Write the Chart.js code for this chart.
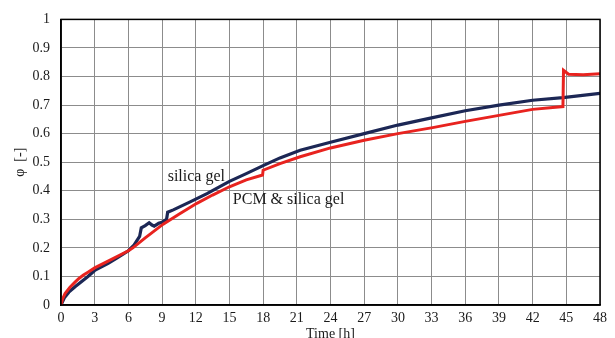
<!DOCTYPE html>
<html>
<head>
<meta charset="utf-8">
<script src="https://cdn.jsdelivr.net/npm/chart.js@4"></script>
<style>
  html, body { margin: 0; padding: 0; background: #fff; }
  #wrap { width: 615px; height: 338px; }
</style>
</head>
<body>
<div id="wrap"><canvas id="c" width="615" height="338"></canvas></div>
<script>
// Relative humidity φ over time for the two sorbent configurations
const timeSilica = [0, 0.3, 0.7, 1.25, 2.4, 3, 4.2, 5, 6, 6.5, 7.0, 7.15, 7.5, 7.85, 8.1, 8.3, 8.7, 9.0, 9.4, 9.5, 10, 11.5, 13, 15, 16.5, 18, 19.5, 21.3, 24, 27, 30, 33.1, 36, 39, 42, 44.7, 48];
const phiSilica  = [0, 0.025, 0.045, 0.064, 0.1, 0.121, 0.146, 0.165, 0.19, 0.21, 0.24, 0.27, 0.278, 0.288, 0.28, 0.276, 0.286, 0.29, 0.30, 0.325, 0.333, 0.361, 0.39, 0.433, 0.46, 0.488, 0.515, 0.542, 0.57, 0.60, 0.63, 0.656, 0.68, 0.70, 0.717, 0.726, 0.741];

const timePcm = [0, 0.15, 0.36, 0.8, 1.25, 1.6, 2.0, 2.4, 3, 4.5, 6, 6.4, 7.5, 9.1, 10.5, 12.1, 13.5, 15, 16.5, 17.95, 18.0, 19.5, 21.3, 24, 27, 30, 33.1, 36, 39, 42, 44.7, 44.75, 45.2, 46.5, 48];
const phiPcm  = [0, 0.022, 0.04, 0.062, 0.08, 0.093, 0.105, 0.115, 0.13, 0.16, 0.19, 0.2, 0.235, 0.283, 0.318, 0.356, 0.385, 0.414, 0.438, 0.455, 0.472, 0.495, 0.519, 0.55, 0.577, 0.60, 0.621, 0.643, 0.664, 0.685, 0.695, 0.822, 0.808, 0.806, 0.81];

const seriesLabels = ['silica gel', 'PCM & silica gel'];
// label anchors in data units: [time, φ]
const labelAnchors = [[9.5, 0.448], [15.3, 0.367]];

const xTitle = 'Time [h]';
const yTitle = 'φ  [-]';

const toPoints = (xs, ys) => xs.map((x, i) => ({ x, y: ys[i] }));

const serif = '"Liberation Serif", "Times New Roman", serif';

const framePlugin = {
  id: 'frameAndLabels',
  afterDatasetsDraw(chart) {
    const { ctx, chartArea: a, scales } = chart;
    ctx.save();
    ctx.strokeStyle = '#000';
    ctx.lineWidth = 1.5;
    ctx.strokeRect(a.left, a.top, a.right - a.left, a.bottom - a.top);
    ctx.fillStyle = '#1a1a1a';
    ctx.font = '16px ' + serif;
    ctx.textBaseline = 'middle';
    ctx.textAlign = 'left';
    seriesLabels.forEach((txt, i) => {
      const [t, v] = labelAnchors[i];
      ctx.fillText(txt, scales.x.getPixelForValue(t), scales.y.getPixelForValue(v));
    });
    ctx.restore();
  }
};

new Chart(document.getElementById('c'), {
  type: 'line',
  data: {
    datasets: [
      {
        label: seriesLabels[1],
        data: toPoints(timePcm, phiPcm),
        borderColor: '#e8231f',
        borderWidth: 3,
        pointRadius: 0,
        tension: 0,
        order: 0
      },
      {
        label: seriesLabels[0],
        data: toPoints(timeSilica, phiSilica),
        borderColor: '#1c2755',
        borderWidth: 3.2,
        pointRadius: 0,
        tension: 0,
        order: 1
      }
    ]
  },
  options: {
    responsive: false,
    animation: false,
    layout: { padding: { top: 19, right: 15, left: 0, bottom: 0 } },
    plugins: {
      legend: { display: false },
      tooltip: { enabled: false }
    },
    scales: {
      x: {
        type: 'linear',
        min: 0,
        max: 48,
        afterFit(s) { s.height = 33; },
        ticks: {
          stepSize: 3,
          color: '#1a1a1a',
          font: { family: serif, size: 14 },
          padding: 5,
          maxRotation: 0,
          autoSkip: false
        },
        grid: { color: '#8c8c8c', lineWidth: 1, drawTicks: false },
        border: { color: '#000', width: 1.5 },
        title: {
          display: true,
          text: xTitle,
          color: '#1a1a1a',
          font: { family: serif, size: 14 },
          padding: { top: 0, bottom: -5 }
        }
      },
      y: {
        min: 0,
        max: 1,
        afterFit(s) { s.width = 61; },
        ticks: {
          stepSize: 0.1,
          color: '#1a1a1a',
          font: { family: serif, size: 14 },
          padding: 11,
          callback: v => (v === 0 || v === 1) ? String(v) : v.toFixed(1)
        },
        grid: { color: '#8c8c8c', lineWidth: 1, drawTicks: false },
        border: { color: '#000', width: 1.5 },
        title: {
          display: true,
          text: yTitle,
          color: '#1a1a1a',
          font: { family: serif, size: 14 },
          padding: { top: 12, bottom: 0 }
        }
      }
    }
  },
  plugins: [framePlugin]
});
</script>
</body>
</html>
